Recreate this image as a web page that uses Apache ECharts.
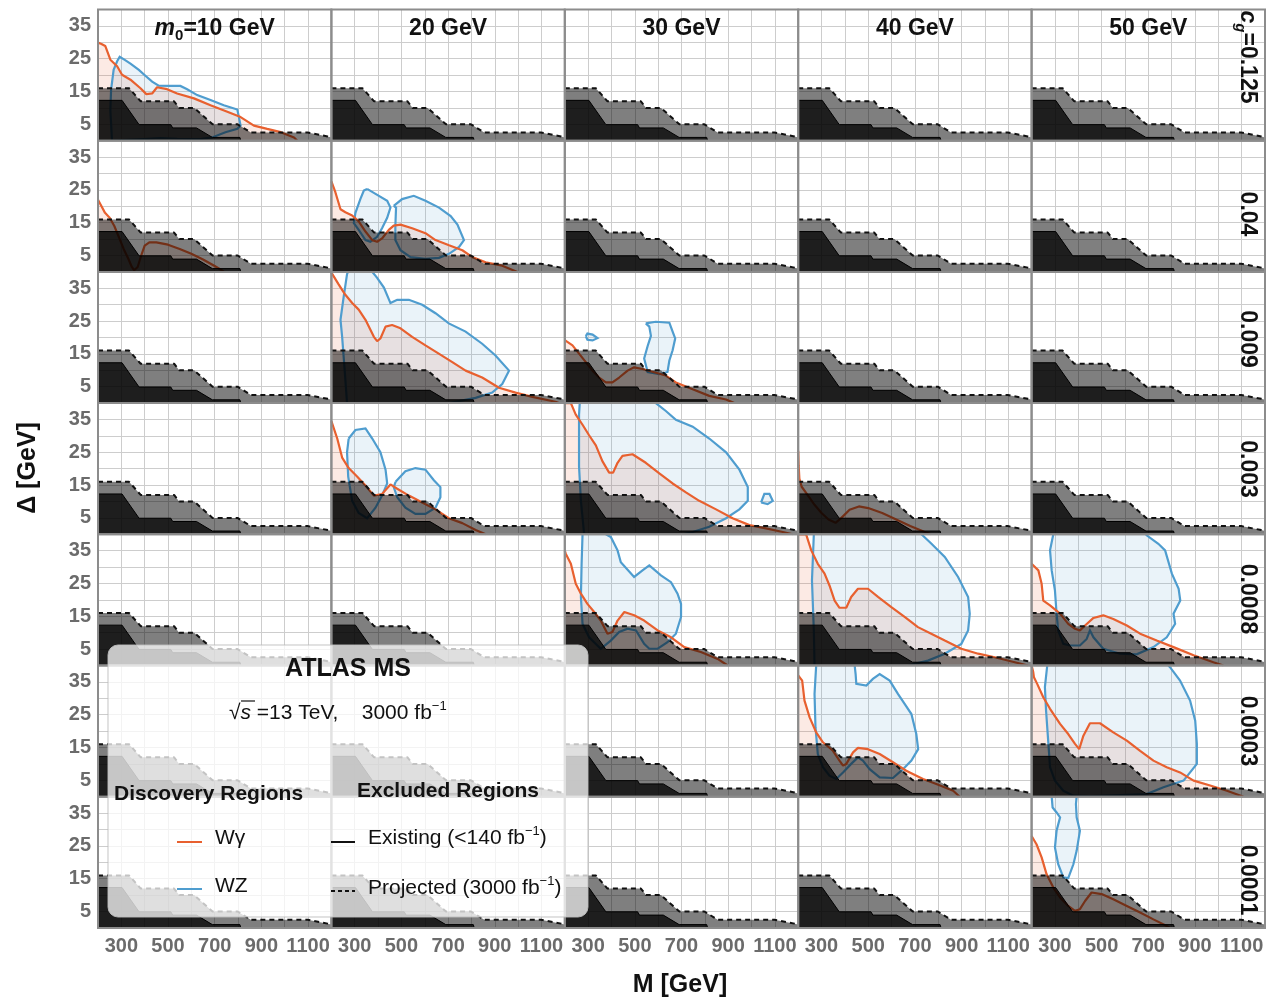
<!DOCTYPE html>
<html>
<head>
<meta charset="utf-8">
<script src="https://cdn.jsdelivr.net/npm/echarts@6/dist/echarts.min.js"></script>
<style>
  html, body { margin: 0; padding: 0; background: #fff; }
  #chart { width: 1273px; height: 1001px; }
</style>
</head>
<body>
<div id="chart"></div>
<script>
// ---- data ----
const massTicks = [300, 500, 700, 900, 1100];
const deltaTicks = [5, 15, 25, 35];
const scalarMasses = ['10', '20', '30', '40', '50'];
const couplings = ['0.125', '0.04', '0.009', '0.003', '0.0008', '0.0003', '0.0001'];

// excluded regions (same in every panel)
const projectedBound = [[200,16],[333,16],[383,12],[526,12],[548,10],[612,10],[691,5],[798,5],[855,2.5],[1098,2.5],[1184,1.3],[1200,1]];
const existingBound = [[200,12.3],[303,12.3],[376,4.9],[512,4.9],[520,3.9],[622,3.9],[690,1],[808,1],[812,0]];

// W gamma discovery curves
const wgam_0125_m10 = [[200,29.9],[215,29.5],[231,28.9],[253,24.7],[282,22.7],[303,20.1],[339,18.6],[382,16],[407,14.2],[432,14.4],[453,16.3],[496,15.7],[539,14.4],[611,12.9],[682,10.8],[754,8.8],[811,7.2],[868,4.6],[925,3.6],[983,2.6],[1040,1.0],[1054,0]];
const wgam_004_m10 = [[200,22],[215,20],[230,18],[250,16.5],[270,14],[290,10.5],[310,7],[330,4],[345,1.5],[355,0.5],[370,1.5],[385,5],[400,8],[420,9],[450,9],[500,8.3],[550,7],[600,5.5],[650,3.8],[700,1.8],[730,0.5],[740,0]];
const wgam_004_m20 = [[200,27.6],[217,24.3],[239,19.1],[260,18.2],[289,17.2],[317,15.4],[346,12.3],[375,9.7],[396,9.2],[417,10.2],[446,12.8],[467,14.1],[496,14.4],[546,13.3],[603,11.8],[646,9.7],[704,8.1],[761,6.6],[804,4.5],[861,2.9],[932,1.9],[997,0]];
const wgam_0009_m20 = [[200,39.8],[231,36.2],[259,33.1],[289,30.5],[317,28.5],[346,25.4],[382,20.2],[396,18.9],[410,19.7],[432,23.3],[460,23.8],[496,22.8],[546,20.2],[603,17.6],[660,15.1],[718,12.5],[775,9.9],[846,7.8],[918,4.7],[989,3.2],[1061,1.9],[1160,0.4],[1175,0]];
const wgam_0009_m30 = [[200,19.2],[204,19],[233,17.6],[261,15.1],[290,12.5],[319,9.9],[347,7.8],[376,6.3],[404,6.3],[433,7.8],[469,9.9],[497,10.9],[533,10.4],[583,9.4],[633,8.4],[676,6.3],[748,4.2],[819,2.2],[891,1.1],[926,0]];
const wgam_0003_m20 = [[200,34.5],[206,33.9],[225,29.2],[246,23.4],[274,20.2],[310,17.6],[346,14.9],[382,11.8],[417,12.3],[453,15.2],[482,13.9],[532,11.8],[589,9.7],[646,7.6],[703,4.9],[761,3.4],[818,1.3],[861,0]];
const wgam_0003_m30 = [[200,40],[226,40],[247,36.5],[276,33.4],[304,30.2],[333,27.1],[361,22.3],[390,18.8],[407,18.8],[426,21.8],[447,23.9],[490,24.4],[547,21.8],[605,18.6],[662,15.5],[719,12.8],[776,10.2],[848,7.6],[919,4.9],[991,2.8],[1062,1.8],[1134,0.7],[1177,0]];
const wgam_0003_m40 = [[200,25.5],[202,21],[205,17],[215,14.5],[240,12],[270,9],[300,6.5],[330,4.5],[360,3.5],[385,5],[420,7.5],[460,8.5],[500,8],[560,6.5],[620,4.5],[680,2.5],[740,0.8],[770,0]];
const wgam_00008_m30 = [[200,35],[204,34.1],[226,31],[247,24.9],[269,21.9],[297,18.8],[326,16.3],[354,13.7],[383,9.7],[404,10.2],[426,13.7],[455,16.3],[497,15.3],[540,13.7],[598,10.7],[655,8.6],[712,5.6],[783,4.1],[855,2],[898,0]];
const wgam_00008_m40 = [[200,40],[234,40],[256,35.1],[284,31],[313,28],[334,24.4],[356,19.8],[377,17.6],[406,17.6],[427,20.9],[456,23.4],[499,23.4],[542,20.9],[599,17.8],[656,14.8],[713,11.7],[770,9.7],[828,7.6],[899,5.1],[971,3.6],[1042,2.5],[1128,1],[1185,0]];
const wgam_00008_m50 = [[200,31],[204,30.5],[229,29],[243,24.9],[250,19.8],[279,18.3],[322,15.8],[357,12.7],[386,11.2],[407,10.7],[429,12.2],[465,14.5],[507,15.3],[550,14.2],[608,12.2],[665,9.7],[736,7.6],[808,5.6],[894,3.1],[979,1],[1022,0]];
const wgam_00003_m40 = [[200,37],[206,36.4],[217,35.4],[227,29.3],[249,24.2],[277,19.6],[306,16.6],[349,14],[377,11],[392,9.5],[406,10],[435,13.5],[456,14.9],[499,14.5],[549,13],[606,10.5],[663,7.9],[735,5.4],[792,3.9],[864,1.8],[892,0]];
const wgam_00003_m50 = [[200,40],[207,38],[210,36.4],[224,34.4],[250,30.3],[279,26.8],[322,22.2],[357,19.1],[386,16.1],[404,14.5],[422,18.6],[450,22.4],[493,22.4],[550,19.6],[608,17.1],[665,14],[722,11],[779,9],[836,7.4],[894,4.9],[965,3.4],[1037,1.8],[1108,0]];
const wgam_00001_m50 = [[200,28],[204,27.6],[221,25.5],[243,21.5],[264,16.4],[293,12.3],[322,9.3],[357,6.7],[386,5.2],[407,5.7],[429,8.2],[457,10.8],[500,10.3],[550,8.7],[608,6.7],[665,4.7],[722,2.6],[779,0.6],[794,0]];

// WZ discovery contours (closed)
const wz_0125_m10 = [[260,0],[253,9.3],[256,15.5],[267,21.6],[282,24.2],[293,25.6],[313,24.7],[339,23.5],[375,21.6],[403,19.8],[432,18],[460,16.8],[510,16.7],[553,16.7],[582,15.7],[625,13.9],[682,12.4],[739,10.8],[797,9.5],[811,4.6],[797,3.6],[746,2.6],[689,1.0],[639,0.5],[540,0.6],[468,0.8],[396,0.5],[296,0.2]];
const wz_004_m20a = [[353,25.3],[389,23.8],[439,21.7],[453,19.6],[439,16.5],[417,13.3],[396,10.7],[367,9.2],[346,9.7],[317,12.8],[296,14.9],[303,18],[324,22.2],[339,24.8]];
const wz_004_m20b = [[467,20.1],[503,22.2],[553,23.2],[603,21.7],[661,19.6],[711,17],[740,14.4],[768,9.7],[747,7.6],[704,5.5],[661,4.3],[603,4.0],[539,4.5],[496,6.6],[474,9.7],[474,13.9],[477,19.6]];
const wz_0009_m20 = [[267,0],[257,9.9],[246,20.2],[239,25.4],[253,32.6],[267,39.3],[271,40],[375,40],[396,38.2],[425,35.2],[453,30.5],[482,31.5],[532,31.5],[589,30],[646,27.4],[703,24.3],[775,21.8],[846,18.1],[903,14.5],[961,9.9],[932,5.8],[889,3.2],[818,1.6],[746,0.6],[703,0]];
const wz_0009_m30a = [[290,20.4],[297,21.2],[319,20.9],[340,19.8],[319,19.1],[297,19.3]];
const wz_0009_m30b = [[547,24.3],[590,24.8],[648,24.5],[662,21.8],[673,19.7],[662,16.1],[648,13],[640,9.5],[605,8.8],[555,9.5],[540,13.6],[555,17.4],[569,20.5],[562,23.3]];
const wz_0003_m20a = [[274,29.2],[303,31.8],[346,32.3],[375,29.2],[410,25],[432,19.7],[439,15.5],[417,11.8],[389,8.1],[353,4.9],[317,6.5],[289,10.2],[272,17.6],[267,25]];
const wz_0003_m20b = [[475,16],[517,19.2],[560,20.2],[603,19.7],[639,16.5],[667,14.4],[667,11.3],[646,8.1],[603,6.2],[560,6.2],[517,8.1],[482,11.3],[467,14.4]];
const wz_0003_m30a = [[283,0],[269,10.2],[261,20.7],[261,36.5],[264,40],[590,40],[633,37.6],[676,34.9],[748,32.8],[819,29.2],[891,25],[948,19.7],[984,14.4],[984,10.2],[948,7.6],[891,4.9],[819,2.3],[748,0.7],[705,0]];
const wz_0003_m30b = [[1041,9.7],[1055,12.3],[1077,12.3],[1091,10.2],[1069,9.2]];
const wz_00008_m30 = [[276,40],[272,31],[269,20.9],[276,12.7],[304,8.6],[354,5.1],[397,7.6],[433,10.2],[469,11.2],[505,10.7],[540,6.6],[562,5.1],[598,5.1],[640,7.1],[676,9.7],[698,14.8],[698,18.8],[683,21.9],[655,25.4],[612,27.5],[562,30.5],[533,29],[497,27],[440,31.5],[426,35.1],[397,39.2],[376,40]];
const wz_00008_m40 = [[270,0],[267,10.7],[259,25.9],[267,40],[728,40],[771,37.1],[828,33.1],[885,27],[928,20.9],[935,15.8],[928,10.7],[899,6.6],[828,3.6],[756,1.5],[699,0.5],[670,0]];
const wz_00008_m50 = [[293,40],[279,35.1],[286,29],[300,22.9],[307,15.8],[314,10.7],[336,6.6],[364,6.1],[407,6.1],[436,8.1],[450,10.7],[465,8.6],[507,5.1],[579,3.6],[650,3.4],[722,5.6],[779,8.6],[815,12.7],[808,15.8],[837,19.8],[830,23.4],[801,28],[772,35.1],[743,37.1],[693,39.7],[690,40]];
const wz_00003_m40 = [[277,40],[270,31.3],[274,21.2],[284,13],[306,9],[334,6.4],[363,5.4],[392,7.4],[427,10],[456,12],[477,11],[506,8.4],[549,5.9],[606,5.7],[649,8.4],[685,11],[714,14.5],[706,19.1],[685,25.2],[656,28.3],[628,31.3],[592,35.4],[549,37.4],[520,35.9],[492,33.9],[449,34.4],[446,37.4],[442,40]];
const wz_00003_m50 = [[267,40],[257,33.4],[262,26.2],[272,16.1],[279,9],[300,4.9],[336,1.8],[379,0.3],[450,0.2],[550,0.4],[693,0.8],[765,2.9],[851,4.9],[908,10],[908,16.1],[901,23.2],[879,29.3],[836,35.4],[793,39.5],[786,40]];
const wz_00001_m50 = [[286,40],[290,36.7],[307,35.2],[322,33.7],[307,29.6],[300,24.5],[314,19.4],[336,15.4],[357,15.2],[379,19.4],[393,23.5],[407,29.6],[393,33.7],[390,37.8],[393,40]];

// which panel (row = coupling, col = mass) each curve belongs to
const wgammaCurves = [
  { row: 0, col: 0, pts: wgam_0125_m10 },
  { row: 1, col: 0, pts: wgam_004_m10 },
  { row: 1, col: 1, pts: wgam_004_m20 },
  { row: 2, col: 1, pts: wgam_0009_m20 },
  { row: 2, col: 2, pts: wgam_0009_m30 },
  { row: 3, col: 1, pts: wgam_0003_m20 },
  { row: 3, col: 2, pts: wgam_0003_m30 },
  { row: 3, col: 3, pts: wgam_0003_m40 },
  { row: 4, col: 2, pts: wgam_00008_m30 },
  { row: 4, col: 3, pts: wgam_00008_m40 },
  { row: 4, col: 4, pts: wgam_00008_m50 },
  { row: 5, col: 3, pts: wgam_00003_m40 },
  { row: 5, col: 4, pts: wgam_00003_m50 },
  { row: 6, col: 4, pts: wgam_00001_m50 }
];
const wzContours = [
  { row: 0, col: 0, pts: wz_0125_m10 },
  { row: 1, col: 1, pts: wz_004_m20a },
  { row: 1, col: 1, pts: wz_004_m20b },
  { row: 2, col: 1, pts: wz_0009_m20 },
  { row: 2, col: 2, pts: wz_0009_m30a },
  { row: 2, col: 2, pts: wz_0009_m30b },
  { row: 3, col: 1, pts: wz_0003_m20a },
  { row: 3, col: 1, pts: wz_0003_m20b },
  { row: 3, col: 2, pts: wz_0003_m30a },
  { row: 3, col: 2, pts: wz_0003_m30b },
  { row: 4, col: 2, pts: wz_00008_m30 },
  { row: 4, col: 3, pts: wz_00008_m40 },
  { row: 4, col: 4, pts: wz_00008_m50 },
  { row: 5, col: 3, pts: wz_00003_m40 },
  { row: 5, col: 4, pts: wz_00003_m50 },
  { row: 6, col: 4, pts: wz_00001_m50 }
];

// ---- layout / style ----
const L0 = 98, T0 = 9.5, PW = 233.4, PH = 131.2;
const NROW = couplings.length, NCOL = scalarMasses.length;
const ORANGE = '#e8602f', ORANGE_FILL = 'rgba(232,96,47,0.13)';
const BLUE = '#4f9dcf', BLUE_FILL = 'rgba(79,157,207,0.12)';
const FONT = '"Liberation Sans", Arial, sans-serif';
const rowLabelY = [57, 214, 339, 469, 599, 731, 880];

const chart = echarts.init(document.getElementById('chart'), null, { renderer: 'canvas' });

const grids = [], xAxes = [], yAxes = [], series = [], graphics = [];
const panel = (r, c) => r * NCOL + c;

// stroke a closed ring but skip pieces lying on the top/bottom frame
function strokePaths(pts) {
  const ring = pts.concat([pts[0]]);
  const paths = [];
  let cur = [ring[0]];
  for (let i = 1; i < ring.length; i++) {
    const a = ring[i - 1], b = ring[i];
    const onEdge = (a[1] >= 40 && b[1] >= 40) || (a[1] <= 0 && b[1] <= 0);
    if (onEdge) { if (cur.length > 1) paths.push(cur); cur = [b]; }
    else cur.push(b);
  }
  if (cur.length > 1) paths.push(cur);
  return paths;
}

for (let r = 0; r < NROW; r++) {
  for (let c = 0; c < NCOL; c++) {
    const idx = panel(r, c);
    grids.push({ left: L0 + c * PW, top: T0 + r * PH, width: PW, height: PH, show: false });
    xAxes.push({
      gridIndex: idx, type: 'value', min: 200, max: 1200, interval: 100,
      axisLine: { show: false }, axisTick: { show: false },
      axisLabel: {
        show: r === NROW - 1, margin: 9, color: '#6b6b6b', fontWeight: 'bold', fontSize: 20, fontFamily: FONT,
        formatter: v => massTicks.includes(v) ? String(v) : ''
      },
      splitLine: { show: true, lineStyle: { color: '#cdcdcd', width: 1 } }
    });
    yAxes.push({
      gridIndex: idx, type: 'value', min: 0, max: 40, interval: 5,
      axisLine: { show: false }, axisTick: { show: false },
      axisLabel: {
        show: c === 0, margin: 7, color: '#6b6b6b', fontWeight: 'bold', fontSize: 20, fontFamily: FONT,
        formatter: v => deltaTicks.includes(v) ? String(v) : ''
      },
      splitLine: { show: true, lineStyle: { color: '#cdcdcd', width: 1 } }
    });
  }
}

wgammaCurves.forEach(cv => {
  const idx = panel(cv.row, cv.col);
  series.push({
    type: 'line', xAxisIndex: idx, yAxisIndex: idx, data: cv.pts,
    showSymbol: false, symbol: 'none', silent: true, z: 2,
    lineStyle: { color: ORANGE, width: 2.2 },
    areaStyle: { color: ORANGE_FILL, opacity: 1 }
  });
});

wzContours.forEach(cv => {
  const idx = panel(cv.row, cv.col);
  const paths = strokePaths(cv.pts);
  series.push({
    type: 'custom', xAxisIndex: idx, yAxisIndex: idx, silent: true, clip: true, z: 2,
    data: [cv.pts[0]],
    renderItem: (params, api) => ({
      type: 'group',
      children: [
        { type: 'polygon', shape: { points: cv.pts.map(p => api.coord(p)) }, style: { fill: BLUE_FILL } }
      ].concat(paths.map(path => ({
        type: 'polyline', shape: { points: path.map(p => api.coord(p)) },
        style: { stroke: BLUE, lineWidth: 2.2, fill: null }
      })))
    })
  });
});

// excluded regions drawn over the discovery regions
for (let i = 0; i < NROW * NCOL; i++) {
  series.push({
    type: 'line', xAxisIndex: i, yAxisIndex: i, data: projectedBound,
    showSymbol: false, symbol: 'none', silent: true, z: 3,
    lineStyle: { color: '#111', width: 2, type: [5, 4] },
    areaStyle: { color: 'rgba(0,0,0,0.5)', opacity: 1 }
  });
  series.push({
    type: 'line', xAxisIndex: i, yAxisIndex: i, data: existingBound,
    showSymbol: false, symbol: 'none', silent: true, z: 3,
    lineStyle: { color: '#000', width: 1 },
    areaStyle: { color: 'rgba(0,0,0,0.76)', opacity: 1 }
  });
}

// panel frames
for (let r = 0; r < NROW; r++) {
  for (let c = 0; c < NCOL; c++) {
    graphics.push({
      type: 'rect', z: 50, silent: true,
      shape: { x: L0 + c * PW, y: T0 + r * PH, width: PW, height: PH },
      style: { fill: null, stroke: '#8c8c8c', lineWidth: 2 }
    });
  }
}

// column titles
scalarMasses.forEach((m, c) => {
  const text = c === 0 ? '{i|m}{s|0}{t|=' + m + ' GeV}' : '{t|' + m + ' GeV}';
  graphics.push({
    type: 'text', z: 60, silent: true, x: L0 + PW * (c + 0.5), y: 29,
    style: {
      text, align: 'center', verticalAlign: 'middle',
      rich: {
        i: { fontFamily: FONT, fontWeight: 'bold', fontStyle: 'italic', fontSize: 23, lineHeight: 28, verticalAlign: 'middle', fill: '#111' },
        s: { fontFamily: FONT, fontWeight: 'bold', fontSize: 15, lineHeight: 15, verticalAlign: 'bottom', fill: '#111' },
        t: { fontFamily: FONT, fontWeight: 'bold', fontSize: 23, lineHeight: 28, verticalAlign: 'middle', fill: '#111' }
      }
    }
  });
});

// coupling labels on the right
couplings.forEach((g, r) => {
  const text = r === 0 ? '{i|c}{s|g}{t|=' + g + '}' : '{t|' + g + '}';
  graphics.push({
    type: 'text', z: 60, silent: true, x: 1247, y: rowLabelY[r], rotation: -Math.PI / 2,
    style: {
      text, align: 'center', verticalAlign: 'middle',
      rich: {
        i: { fontFamily: FONT, fontWeight: 'bold', fontStyle: 'italic', fontSize: 23, lineHeight: 28, verticalAlign: 'middle', fill: '#111' },
        s: { fontFamily: FONT, fontWeight: 'bold', fontStyle: 'italic', fontSize: 15, lineHeight: 15, verticalAlign: 'bottom', fill: '#111' },
        t: { fontFamily: FONT, fontWeight: 'bold', fontSize: 23, lineHeight: 28, verticalAlign: 'middle', fill: '#111' }
      }
    }
  });
});

// axis titles
graphics.push({
  type: 'text', z: 60, silent: true, x: 28, y: 468, rotation: Math.PI / 2,
  style: { text: 'Δ [GeV]', align: 'center', verticalAlign: 'middle', fontFamily: FONT, fontWeight: 'bold', fontSize: 25, fill: '#111' }
});
graphics.push({
  type: 'text', z: 60, silent: true, x: 680, y: 985,
  style: { text: 'M [GeV]', align: 'center', verticalAlign: 'middle', fontFamily: FONT, fontWeight: 'bold', fontSize: 25, fill: '#111' }
});

// legend box
const supRich = {
  t: { fontFamily: FONT, fontSize: 21, lineHeight: 26, verticalAlign: 'middle', fill: '#111' },
  it: { fontFamily: FONT, fontSize: 21, fontStyle: 'italic', lineHeight: 26, verticalAlign: 'middle', fill: '#111' },
  sup: { fontFamily: FONT, fontSize: 13, lineHeight: 13, verticalAlign: 'top', fill: '#111' }
};
graphics.push(
  { type: 'rect', z: 100, silent: true, shape: { x: 108, y: 645, width: 480, height: 272, r: 10 },
    style: { fill: 'rgba(255,255,255,0.75)', stroke: 'rgba(190,190,190,0.9)', lineWidth: 1 } },
  { type: 'text', z: 101, silent: true, x: 348, y: 669,
    style: { text: 'ATLAS MS', align: 'center', verticalAlign: 'middle', fontFamily: FONT, fontWeight: 'bold', fontSize: 25, fill: '#111' } },
  { type: 'text', z: 101, silent: true, x: 229, y: 713,
    style: { text: '{t|√}{it|s}{t| =13 TeV,    3000 fb}{sup|−1}', align: 'left', verticalAlign: 'middle', rich: supRich } },
  { type: 'line', z: 101, silent: true, shape: { x1: 241, y1: 701, x2: 255, y2: 701 }, style: { stroke: '#111', lineWidth: 1.2 } },
  { type: 'text', z: 101, silent: true, x: 114, y: 794,
    style: { text: 'Discovery Regions', align: 'left', verticalAlign: 'middle', fontFamily: FONT, fontWeight: 'bold', fontSize: 21, fill: '#111' } },
  { type: 'text', z: 101, silent: true, x: 357, y: 791,
    style: { text: 'Excluded Regions', align: 'left', verticalAlign: 'middle', fontFamily: FONT, fontWeight: 'bold', fontSize: 21, fill: '#111' } },
  { type: 'line', z: 101, silent: true, shape: { x1: 177, y1: 842, x2: 202, y2: 842 }, style: { stroke: ORANGE, lineWidth: 2 } },
  { type: 'text', z: 101, silent: true, x: 215, y: 838,
    style: { text: 'Wγ', align: 'left', verticalAlign: 'middle', fontFamily: FONT, fontSize: 21, fill: '#111' } },
  { type: 'line', z: 101, silent: true, shape: { x1: 177, y1: 889, x2: 202, y2: 889 }, style: { stroke: BLUE, lineWidth: 2 } },
  { type: 'text', z: 101, silent: true, x: 215, y: 886,
    style: { text: 'WZ', align: 'left', verticalAlign: 'middle', fontFamily: FONT, fontSize: 21, fill: '#111' } },
  { type: 'line', z: 101, silent: true, shape: { x1: 331, y1: 842, x2: 355, y2: 842 }, style: { stroke: '#111', lineWidth: 2 } },
  { type: 'text', z: 101, silent: true, x: 368, y: 838,
    style: { text: '{t|Existing (<140 fb}{sup|−1}{t|)}', align: 'left', verticalAlign: 'middle', rich: supRich } },
  { type: 'line', z: 101, silent: true, shape: { x1: 331, y1: 891, x2: 355, y2: 891 }, style: { stroke: '#111', lineWidth: 2, lineDash: [4, 3] } },
  { type: 'text', z: 101, silent: true, x: 368, y: 888,
    style: { text: '{t|Projected (3000 fb}{sup|−1}{t|)}', align: 'left', verticalAlign: 'middle', rich: supRich } }
);

chart.setOption({
  animation: false,
  backgroundColor: '#fff',
  grid: grids,
  xAxis: xAxes,
  yAxis: yAxes,
  series,
  graphic: graphics
});
</script>
</body>
</html>
